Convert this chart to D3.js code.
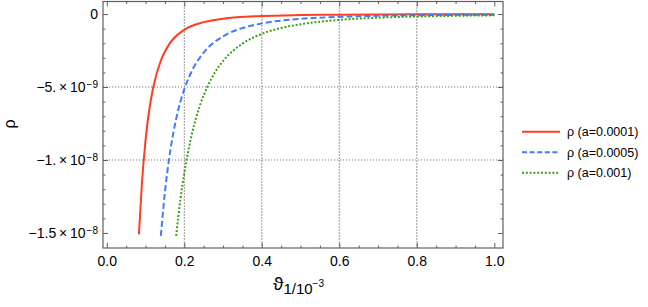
<!DOCTYPE html>
<html><head><meta charset="utf-8">
<script src="https://cdn.jsdelivr.net/npm/d3@7"></script>
<style>
body{margin:0;background:#fff;}
svg{display:block;font-family:"Liberation Sans",Arial,Helvetica,sans-serif;}
</style></head>
<body>
<svg id="chart" width="648" height="307"></svg>
<script>
// ---- data ----
const thetaRed   = [0.083, 0.09, 0.10, 0.11, 0.12, 0.14, 0.16, 0.20, 0.25, 0.30, 0.40, 0.50, 0.60, 0.80, 1.00];
const rhoRed     = [-15.1e-9, -11.85e-9, -8.64e-9, -6.49e-9, -5.0e-9, -3.15e-9, -2.11e-9, -1.08e-9, -0.553e-9, -0.32e-9, -0.135e-9, -0.069e-9, -0.04e-9, -0.017e-9, -0.0086e-9];
const thetaBlue  = [0.1395, 0.15, 0.16, 0.18, 0.20, 0.22, 0.25, 0.30, 0.35, 0.40, 0.50, 0.60, 0.70, 0.80, 1.00];
const rhoBlue    = [-15.2e-9, -12.2e-9, -10.06e-9, -7.06e-9, -5.15e-9, -3.87e-9, -2.64e-9, -1.53e-9, -0.96e-9, -0.64e-9, -0.33e-9, -0.19e-9, -0.12e-9, -0.08e-9, -0.041e-9];
const thetaGreen = [0.179, 0.19, 0.20, 0.22, 0.24, 0.26, 0.28, 0.30, 0.35, 0.40, 0.45, 0.50, 0.60, 0.70, 0.80, 0.90, 1.00];
const rhoGreen   = [-15.2e-9, -12.68e-9, -10.9e-9, -8.17e-9, -6.29e-9, -4.95e-9, -3.96e-9, -3.22e-9, -2.03e-9, -1.36e-9, -0.95e-9, -0.70e-9, -0.40e-9, -0.25e-9, -0.17e-9, -0.12e-9, -0.087e-9];
const seriesNames = ["\u03c1 (a=0.0001)", "\u03c1 (a=0.0005)", "\u03c1 (a=0.001)"];
const xTicks = [0, 0.2, 0.4, 0.6, 0.8, 1.0];
const xTickLabels = ["0.0", "0.2", "0.4", "0.6", "0.8", "1.0"];
const yTicks = [0, -5e-9, -1e-8, -1.5e-8];
const yTickMant = ["0", "\u22125.\u2009\u00d7\u200910", "\u22121.\u2009\u00d7\u200910", "\u22121.5\u2009\u00d7\u200910"];
const yTickExp  = ["", "\u22129", "\u22128", "\u22128"];
const xGrid = [0.2, 0.4, 0.6, 0.8];
const yGrid = [-5e-9, -1e-8];

// ---- layout ----
const L = 103, R = 503, T = 1.5, B = 248;
const svg = d3.select("#chart");
const x = d3.scaleLinear().domain([-0.0098, 1.0224]).range([L, R]);
const y = d3.scaleLinear().domain([-1.603e-8, 0.86e-9]).range([B, T]);

const frameColor = "#5f5f5f";
const colors = ["#ff3d1f", "#3f7bff", "#3e9e14"];
const dashes = [null, "6,3", "2,1.8"];

// grid
svg.append("g").selectAll("line").data(xGrid).join("line")
  .attr("x1", d => x(d)).attr("x2", d => x(d)).attr("y1", T).attr("y2", B)
  .attr("stroke", "#333").attr("stroke-width", 1).attr("stroke-dasharray", "1,2");
svg.append("g").selectAll("line").data(yGrid).join("line")
  .attr("x1", L).attr("x2", R).attr("y1", d => y(d)).attr("y2", d => y(d))
  .attr("stroke", "#777").attr("stroke-width", 1).attr("stroke-dasharray", "1.2,1.8");

// minor ticks values
const xMinor = d3.range(0, 1.0001, 0.05).filter(v => Math.abs(v*5 - Math.round(v*5)) > 1e-6);
const yMinor = d3.range(0, -1.6e-8, -1e-9).filter(v => Math.abs(v/5e-9 - Math.round(v/5e-9)) > 1e-6);

function styleAxis(g){
  g.select(".domain").remove();
  g.selectAll(".tick line").attr("stroke", frameColor).attr("stroke-width", 1);
}
// major/minor axes (inward ticks)
svg.append("g").attr("transform", `translate(0,${B})`)
  .call(d3.axisBottom(x).tickValues(xTicks).tickSizeInner(-5).tickSizeOuter(0).tickFormat((d,i)=>xTickLabels[i]).tickPadding(8))
  .call(styleAxis)
  .call(g => g.selectAll("text").attr("font-size", 14).attr("fill", "#000").attr("font-family", "Liberation Sans, Arial, sans-serif"));
svg.append("g").attr("transform", `translate(0,${B})`)
  .call(d3.axisBottom(x).tickValues(xMinor).tickSizeInner(-2.5).tickSizeOuter(0).tickFormat(""))
  .call(styleAxis);
svg.append("g").attr("transform", `translate(0,${T})`)
  .call(d3.axisTop(x).tickValues(xTicks).tickSizeInner(-5).tickSizeOuter(0).tickFormat(""))
  .call(styleAxis);
svg.append("g").attr("transform", `translate(0,${T})`)
  .call(d3.axisTop(x).tickValues(xMinor).tickSizeInner(-2.5).tickSizeOuter(0).tickFormat(""))
  .call(styleAxis);

const yAx = svg.append("g").attr("transform", `translate(${L},0)`)
  .call(d3.axisLeft(y).tickValues(yTicks).tickSizeInner(-5).tickSizeOuter(0).tickFormat("").tickPadding(4))
  .call(styleAxis);
svg.append("g").attr("transform", `translate(${L},0)`)
  .call(d3.axisLeft(y).tickValues(yMinor).tickSizeInner(-2.5).tickSizeOuter(0).tickFormat(""))
  .call(styleAxis);
svg.append("g").attr("transform", `translate(${R},0)`)
  .call(d3.axisRight(y).tickValues(yTicks).tickSizeInner(-5).tickSizeOuter(0).tickFormat(""))
  .call(styleAxis);
svg.append("g").attr("transform", `translate(${R},0)`)
  .call(d3.axisRight(y).tickValues(yMinor).tickSizeInner(-2.5).tickSizeOuter(0).tickFormat(""))
  .call(styleAxis);

// y tick labels with superscripts
yAx.selectAll(".tick").each(function(d, i){
  const t = d3.select(this).select("text")
    .attr("x", -5).attr("dy", "0.35em").attr("text-anchor", "end")
    .attr("font-size", 14).attr("fill", "#000").text(null);
  t.append("tspan").text(yTickMant[i]);
  if (yTickExp[i]) t.append("tspan").attr("dy", "-0.45em").attr("dx", 1).attr("font-size", 10).text(yTickExp[i]);
});

// frame
svg.append("rect").attr("x", L).attr("y", T).attr("width", R - L).attr("height", B - T)
  .attr("fill", "none").attr("stroke", frameColor).attr("stroke-width", 1.2);

// clip
svg.append("clipPath").attr("id", "clip").append("rect")
  .attr("x", L).attr("y", T).attr("width", R - L).attr("height", B - T);

const line = d3.line().x(d => x(d[0])).y(d => y(d[1])).curve(d3.curveMonotoneX);
const series = [d3.zip(thetaRed, rhoRed), d3.zip(thetaBlue, rhoBlue), d3.zip(thetaGreen, rhoGreen)];
svg.append("g").attr("clip-path", "url(#clip)").selectAll("path").data(series).join("path")
  .attr("d", line).attr("fill", "none")
  .attr("stroke", (d,i) => colors[i]).attr("stroke-width", 2)
  .attr("stroke-dasharray", (d,i) => dashes[i]);

// axis titles
svg.append("text").attr("transform", "translate(15,124) rotate(-90)")
  .attr("text-anchor", "middle").attr("font-size", 16).attr("fill", "#000").text("\u03c1");
const xt = svg.append("text").attr("x", 273).attr("y", 290).attr("font-size", 19).attr("fill", "#000");
xt.append("tspan").text("\u03d1");
xt.append("tspan").attr("font-size", 15).attr("dy", 4).text("1/10");
xt.append("tspan").attr("font-size", 10).attr("dy", -7).text("\u22123");

// legend
const lg = svg.append("g");
const legY = [131.7, 152.3, 172.7];
seriesNames.forEach((name, i) => {
  lg.append("line").attr("x1", 522).attr("x2", 560).attr("y1", legY[i]).attr("y2", legY[i])
    .attr("stroke", colors[i]).attr("stroke-width", 2)
    .attr("stroke-dasharray", i === 1 ? "5,2.6" : dashes[i]);
  lg.append("text").attr("x", 567).attr("y", legY[i]).attr("dy", "0.35em")
    .attr("font-size", 12.5).attr("fill", "#000").text(name);
});
</script>
</body></html>
